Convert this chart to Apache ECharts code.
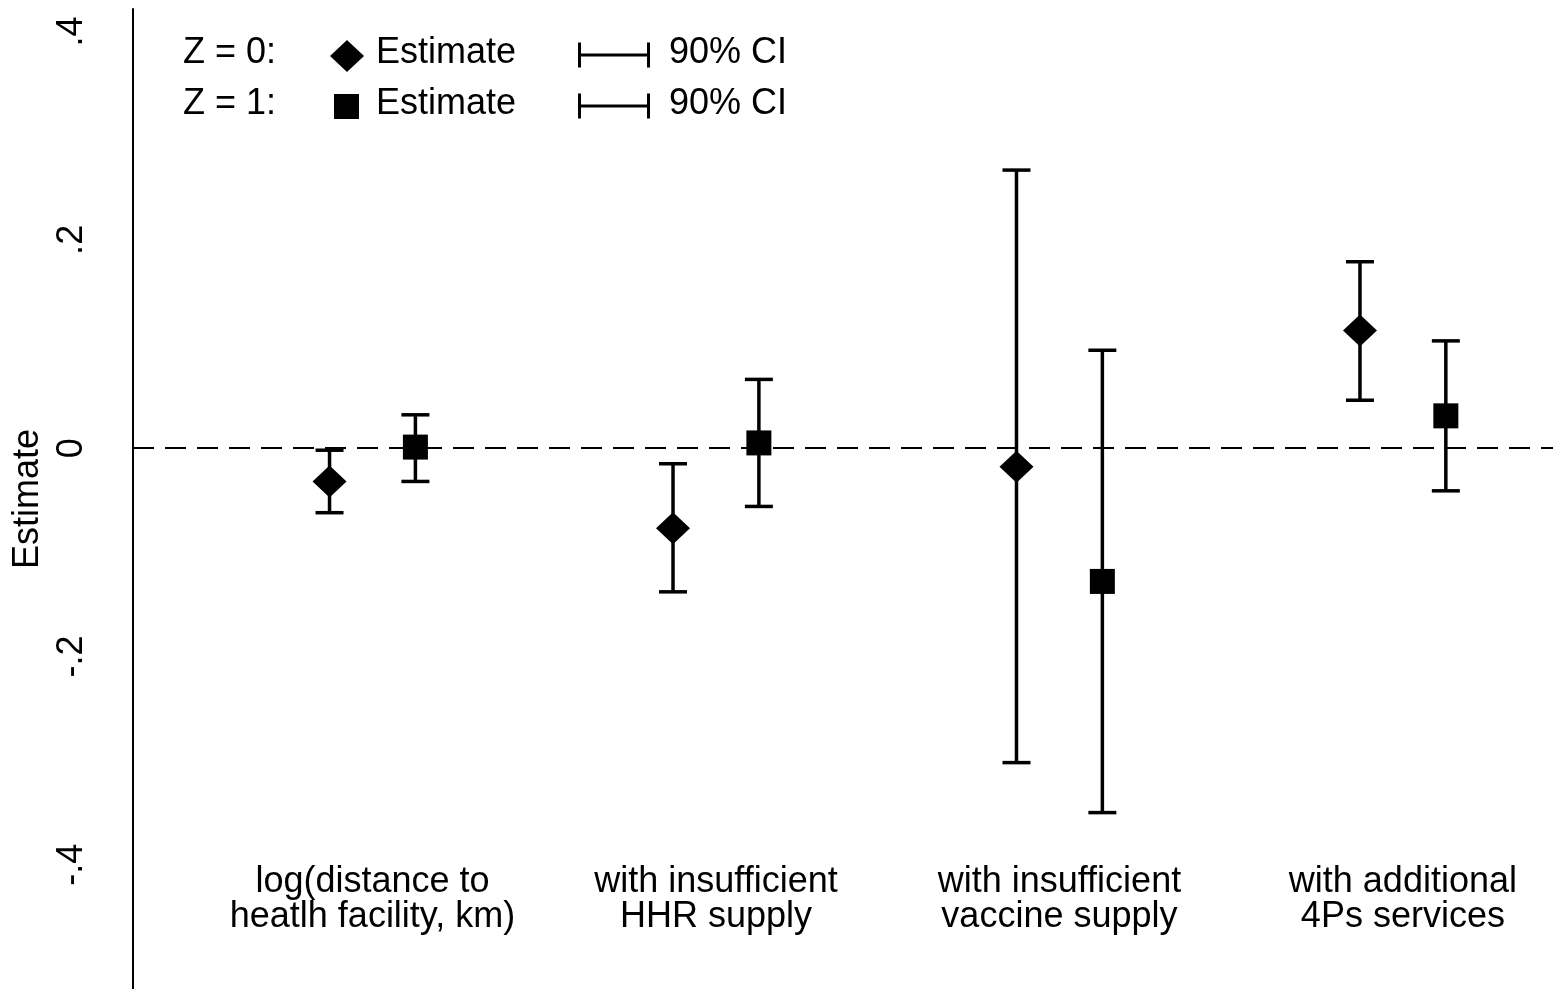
<!DOCTYPE html>
<html>
<head>
<meta charset="utf-8">
<script src="https://cdn.jsdelivr.net/npm/echarts@6/dist/echarts.min.js"></script>
<style>
  html, body { margin: 0; padding: 0; background: #fff; }
  #main { width: 1562px; height: 989px; }
</style>
</head>
<body>
<div id="main"></div>
<script>
// categories along x
var categories = [
  'log(distance to\nheatlh facility, km)',
  'with insufficient\nHHR supply',
  'with insufficient\nvaccine supply',
  'with additional\n4Ps services'
];
// Z = 0 (diamonds)
var z0Est = [-0.032, -0.077, -0.018, 0.113];
var z0Lo = [-0.062, -0.138, -0.302, 0.046];
var z0Hi = [-0.002, -0.015, 0.267, 0.179];
// Z = 1 (squares)
var z1Est = [0.001, 0.005, -0.128, 0.031];
var z1Lo = [-0.032, -0.056, -0.350, -0.041];
var z1Hi = [0.032, 0.066, 0.094, 0.103];
// y ticks
var yTickValues = [-0.4, -0.2, 0, 0.2, 0.4];
var yTickLabels = ['-.4', '-.2', '0', '.2', '.4'];

var FONT = 'Liberation Sans, Arial, Helvetica, sans-serif';
var OFFSET = 0.125;

function ciSeries(lo, hi, shift) {
  return {
    type: 'custom',
    silent: true,
    z: 2,
    data: lo.map(function (v, i) { return [i + 1 + shift, v, hi[i]]; }),
    encode: { x: 0, y: [1, 2] },
    renderItem: function (params, api) {
      var x = api.value(0);
      var a = api.coord([x, api.value(1)]);
      var b = api.coord([x, api.value(2)]);
      var st = { stroke: '#000', lineWidth: 3.5 };
      return {
        type: 'group',
        children: [
          { type: 'line', shape: { x1: a[0], y1: a[1], x2: b[0], y2: b[1] }, style: st },
          { type: 'line', shape: { x1: a[0] - 14, y1: a[1], x2: a[0] + 14, y2: a[1] }, style: st },
          { type: 'line', shape: { x1: b[0] - 14, y1: b[1], x2: b[0] + 14, y2: b[1] }, style: st }
        ]
      };
    }
  };
}

// legend rows (text + key symbols), Stata style
function legendRow(y, symbol, label) {
  var txt = { fontSize: 36, fontFamily: FONT, fill: '#000', lineHeight: 36 };
  var ciY = y + 4;
  var ln = { stroke: '#000', lineWidth: 3 };
  return [
    { type: 'text', x: 183, y: y - 16, style: Object.assign({ text: label }, txt) },
    symbol,
    { type: 'text', x: 376, y: y - 16, style: Object.assign({ text: 'Estimate' }, txt) },
    { type: 'line', shape: { x1: 578, y1: ciY, x2: 650, y2: ciY }, style: ln },
    { type: 'line', shape: { x1: 579.5, y1: ciY - 12.5, x2: 579.5, y2: ciY + 12.5 }, style: ln },
    { type: 'line', shape: { x1: 648.5, y1: ciY - 12.5, x2: 648.5, y2: ciY + 12.5 }, style: ln },
    { type: 'text', x: 669, y: y - 16, style: Object.assign({ text: '90% CI' }, txt) }
  ];
}

var chart = echarts.init(document.getElementById('main'));
chart.setOption({
  animation: false,
  backgroundColor: '#fff',
  textStyle: { fontFamily: FONT, color: '#000' },
  grid: { left: 133, right: 9, top: 9, bottom: 0, outerBoundsMode: 'none' },
  xAxis: {
    type: 'value',
    min: 0.3028,
    max: 4.437,
    axisLine: { show: false },
    axisTick: { show: false },
    splitLine: { show: false },
    axisLabel: {
      inside: true,
      margin: 54,
      customValues: [1, 2, 3, 4],
      fontSize: 36,
      lineHeight: 35,
      color: '#000',
      fontFamily: FONT,
      formatter: function (v) { return categories[Math.round(v) - 1]; }
    }
  },
  yAxis: {
    type: 'value',
    min: -0.5194,
    max: 0.4217,
    name: 'Estimate',
    nameLocation: 'middle',
    nameGap: 84,
    nameTextStyle: { fontSize: 36, lineHeight: 36, color: '#000', fontFamily: FONT },
    axisLine: { show: true, onZero: false, lineStyle: { color: '#000', width: 2 } },
    axisTick: { show: false },
    splitLine: { show: false },
    axisLabel: {
      rotate: 90,
      margin: 43,
      fontSize: 36,
      lineHeight: 36,
      color: '#000',
      fontFamily: FONT,
      customValues: yTickValues,
      formatter: function (v) {
        var best = 0;
        yTickValues.forEach(function (t, i) {
          if (Math.abs(t - v) < Math.abs(yTickValues[best] - v)) best = i;
        });
        return yTickLabels[best];
      }
    }
  },
  graphic: legendRow(51, {
    type: 'polygon', shape: { points: [[347, 40], [364, 56], [347, 72], [330, 56]] }, style: { fill: '#000' }
  }, 'Z = 0:').concat(legendRow(102, {
    type: 'rect', shape: { x: 334, y: 94, width: 25, height: 25 }, style: { fill: '#000' }
  }, 'Z = 1:')),
  series: [
    ciSeries(z0Lo, z0Hi, -OFFSET),
    ciSeries(z1Lo, z1Hi, OFFSET),
    {
      type: 'scatter',
      silent: true,
      z: 3,
      symbol: 'diamond',
      symbolSize: [34, 32],
      itemStyle: { color: '#000', opacity: 1 },
      data: z0Est.map(function (v, i) { return [i + 1 - OFFSET, v]; }),
      markLine: {
        silent: true,
        symbol: 'none',
        label: { show: false },
        lineStyle: { color: '#000', width: 2, type: [21, 11] },
        data: [{ yAxis: 0 }]
      }
    },
    {
      type: 'scatter',
      silent: true,
      z: 3,
      symbol: 'rect',
      symbolSize: 25,
      itemStyle: { color: '#000', opacity: 1 },
      data: z1Est.map(function (v, i) { return [i + 1 + OFFSET, v]; })
    }
  ]
});
</script>
</body>
</html>
